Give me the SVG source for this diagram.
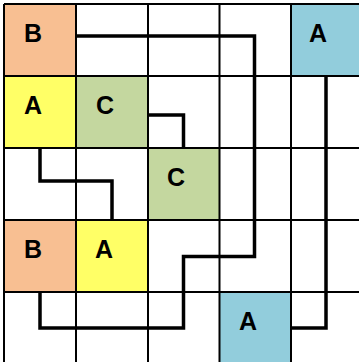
<svg xmlns="http://www.w3.org/2000/svg" width="359" height="362" viewBox="0 0 359 362">
<style>
.cell{stroke:none}
.b{fill:#F8BF92}.ya{fill:#FFFF66}.c{fill:#C4D79F}.ba{fill:#92CDDC}
.grid{stroke:#000;stroke-width:2;fill:none}
.conn{stroke:#000;stroke-width:3.5;fill:none;stroke-linejoin:miter;stroke-linecap:square}
.lbl{font-family:"Liberation Sans",Arial,sans-serif;font-weight:bold;font-size:25px;fill:#000;text-anchor:middle}
</style>
<rect x="0" y="0" width="359" height="362" fill="#fff"/>
<g id="node-B1"><rect class="cell b" x="4" y="4" width="72" height="72"/><text class="lbl" x="33" y="42">B</text></g>
<g id="node-A4"><rect class="cell ba" x="291" y="4" width="72" height="72"/><text class="lbl" x="318" y="42">A</text></g>
<g id="node-A1"><rect class="cell ya" x="4" y="76" width="72" height="72"/><text class="lbl" x="33" y="114">A</text></g>
<g id="node-C1"><rect class="cell c" x="76" y="76" width="72" height="72"/><text class="lbl" x="105" y="114">C</text></g>
<g id="node-C2"><rect class="cell c" x="148" y="148" width="71.5" height="72"/><text class="lbl" x="176" y="186">C</text></g>
<g id="node-B2"><rect class="cell b" x="4" y="220" width="72" height="72"/><text class="lbl" x="33" y="258">B</text></g>
<g id="node-A2"><rect class="cell ya" x="76" y="220" width="72" height="72"/><text class="lbl" x="104" y="258">A</text></g>
<g id="node-A3"><rect class="cell ba" x="219.5" y="292" width="71.5" height="72"/><text class="lbl" x="248" y="330">A</text></g>
<g id="grid">
<path class="grid" d="M4,4V364M76,4V364M148,4V364M219.5,4V364M291,4V364M363,4V364M4,4H363M4,76H363M4,148H363M4,220H363M4,292H363M4,364H363"/>
</g>
<g id="connectors">
<path class="conn" d="M78,36H254.5V256.5H183.5V328H40V294"/>
<path class="conn" d="M40,150V181H112V218"/>
<path class="conn" d="M150,115H183.5V146"/>
<path class="conn" d="M326,78V328H293"/>
</g>
</svg>
